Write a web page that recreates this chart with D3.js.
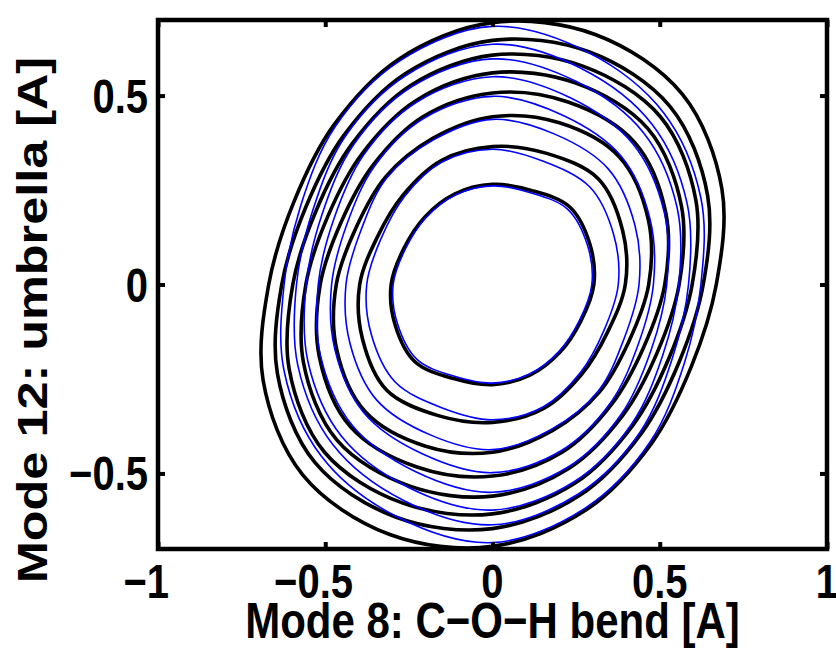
<!DOCTYPE html>
<html><head><meta charset="utf-8">
<script src="https://cdn.jsdelivr.net/npm/d3@7"></script>
<style>body{margin:0;background:#fff}svg{display:block}</style>
</head><body>
<script>
// ---- data (Mode 8 x, Mode 12 y, in Angstrom) ----
const xTicks = [-1, -0.5, 0, 0.5, 1];
const yTicks = [-0.5, 0, 0.5];
const xLabel = "Mode 8: C\u2212O\u2212H bend [A]";
const yLabel = "Mode 12: umbrella [A]";

// black (thick) contour levels, innermost first
const black1 = [[0.303,0],[0.291,0.107],[0.231,0.205],[0.116,0.249],[0,0.265],[-0.112,0.240],[-0.202,0.179],[-0.264,0.097],
                [-0.303,0],[-0.291,-0.107],[-0.231,-0.205],[-0.116,-0.249],[0,-0.265],[0.112,-0.240],[0.202,-0.179],[0.264,-0.097]];
const black2 = [[0.397,0],[0.389,0.143],[0.316,0.280],[0.162,0.347],[0,0.365],[-0.153,0.328],[-0.267,0.237],[-0.344,0.126],
                [-0.397,0],[-0.389,-0.143],[-0.316,-0.280],[-0.162,-0.347],[0,-0.365],[0.153,-0.328],[0.267,-0.237],[0.344,-0.126]];
const black3 = [[0.467,0],[0.466,0.171],[0.380,0.337],[0.200,0.428],[0,0.444],[-0.180,0.386],[-0.320,0.284],[-0.408,0.150],
                [-0.467,0],[-0.466,-0.171],[-0.380,-0.337],[-0.200,-0.428],[0,-0.444],[0.180,-0.386],[0.320,-0.284],[0.408,-0.150]];
const black4 = [[0.515,0],[0.518,0.190],[0.425,0.376],[0.226,0.483],[0,0.507],[-0.208,0.444],[-0.357,0.316],[-0.452,0.166],
                [-0.515,0],[-0.518,-0.190],[-0.425,-0.376],[-0.226,-0.483],[0,-0.507],[0.208,-0.444],[0.357,-0.316],[0.452,-0.166]];
const black5 = [[0.558,0],[0.565,0.207],[0.465,0.412],[0.249,0.533],[0,0.560],[-0.228,0.487],[-0.390,0.346],[-0.492,0.181],
                [-0.558,0],[-0.565,-0.207],[-0.465,-0.412],[-0.249,-0.533],[0,-0.560],[0.228,-0.487],[0.390,-0.346],[0.492,-0.181]];
const black6 = [[0.597,0],[0.608,0.223],[0.502,0.444],[0.270,0.578],[0,0.607],[-0.246,0.526],[-0.420,0.372],[-0.528,0.194],
                [-0.597,0],[-0.608,-0.223],[-0.502,-0.444],[-0.270,-0.578],[0,-0.607],[0.246,-0.526],[0.420,-0.372],[0.528,-0.194]];
const black7 = [[0.630,0],[0.643,0.236],[0.531,0.471],[0.288,0.616],[0,0.646],[-0.261,0.558],[-0.445,0.394],[-0.558,0.205],
                [-0.630,0],[-0.643,-0.236],[-0.531,-0.471],[-0.288,-0.616],[0,-0.646],[0.261,-0.558],[0.445,-0.394],[0.558,-0.205]];
const black8 = [[0.669,0],[0.686,0.252],[0.568,0.503],[0.309,0.661],[0,0.693],[-0.279,0.597],[-0.475,0.421],[-0.594,0.218],
                [-0.669,0],[-0.686,-0.252],[-0.568,-0.503],[-0.309,-0.661],[0,-0.693],[0.279,-0.597],[0.475,-0.421],[0.594,-0.218]];

// blue (thin) contour levels, innermost first
const blue1 = [[0.297,0],[0.284,0.104],[0.225,0.199],[0.114,0.243],[0,0.261],[-0.111,0.237],[-0.199,0.177],[-0.260,0.095],
               [-0.297,0],[-0.284,-0.104],[-0.225,-0.199],[-0.114,-0.243],[0,-0.261],[0.111,-0.237],[0.199,-0.177],[0.260,-0.095]];
const blue2 = [[0.376,0],[0.362,0.133],[0.291,0.258],[0.152,0.326],[0,0.358],[-0.151,0.324],[-0.263,0.233],[-0.333,0.122],
               [-0.376,0],[-0.362,-0.133],[-0.291,-0.258],[-0.152,-0.326],[0,-0.358],[0.151,-0.324],[0.263,-0.233],[0.333,-0.122]];
const blue3 = [[0.438,0],[0.426,0.156],[0.346,0.306],[0.186,0.398],[0,0.437],[-0.178,0.382],[-0.317,0.281],[-0.393,0.144],
               [-0.438,0],[-0.426,-0.156],[-0.346,-0.306],[-0.186,-0.398],[0,-0.437],[0.178,-0.382],[0.317,-0.281],[0.393,-0.144]];
const blue4 = [[0.481,0],[0.471,0.173],[0.384,0.340],[0.210,0.448],[0,0.498],[-0.205,0.440],[-0.353,0.313],[-0.435,0.160],
               [-0.481,0],[-0.471,-0.173],[-0.384,-0.340],[-0.210,-0.448],[0,-0.498],[0.205,-0.440],[0.353,-0.313],[0.435,-0.160]];
const blue5 = [[0.521,0],[0.514,0.189],[0.420,0.372],[0.231,0.495],[0,0.550],[-0.226,0.483],[-0.386,0.342],[-0.474,0.174],
               [-0.521,0],[-0.514,-0.189],[-0.420,-0.372],[-0.231,-0.495],[0,-0.550],[0.226,-0.483],[0.386,-0.342],[0.474,-0.174]];
const blue6 = [[0.557,0],[0.552,0.203],[0.452,0.401],[0.251,0.537],[0,0.597],[-0.244,0.522],[-0.416,0.369],[-0.509,0.187],
               [-0.557,0],[-0.552,-0.203],[-0.452,-0.401],[-0.251,-0.537],[0,-0.597],[0.244,-0.522],[0.416,-0.369],[0.509,-0.187]];
const blue7 = [[0.586,0],[0.582,0.214],[0.478,0.423],[0.267,0.571],[0,0.636],[-0.259,0.553],[-0.441,0.391],[-0.537,0.197],
               [-0.586,0],[-0.582,-0.214],[-0.478,-0.423],[-0.267,-0.571],[0,-0.636],[0.259,-0.553],[0.441,-0.391],[0.537,-0.197]];
const blue8 = [[0.623,0],[0.623,0.229],[0.512,0.454],[0.287,0.614],[0,0.683],[-0.277,0.592],[-0.471,0.417],[-0.573,0.210],
               [-0.623,0],[-0.623,-0.229],[-0.512,-0.454],[-0.287,-0.614],[0,-0.683],[0.277,-0.592],[0.471,-0.417],[0.573,-0.210]];

const blackContours = [black1, black2, black3, black4, black5, black6, black7, black8];
const blueContours  = [blue1, blue2, blue3, blue4, blue5, blue6, blue7, blue8];

// ---- drawing ----
const W = 836, H = 650;
const m = {left: 158, right: 827, top: 20, bottom: 549};
const FONT = "'Liberation Sans', Arial, Helvetica, sans-serif";
const STRETCH = 1.2;   // glyphs in the original are taller than wide

const svg = d3.select("body").append("svg").attr("width", W).attr("height", H);
const x = d3.scaleLinear().domain([-1, 1]).range([m.left, m.right]);
const y = d3.scaleLinear().domain([-0.7, 0.7]).range([m.bottom, m.top]);

svg.append("defs").append("clipPath").attr("id", "clip")
  .append("rect").attr("x", m.left).attr("y", m.top)
  .attr("width", m.right - m.left).attr("height", m.bottom - m.top);

const line = d3.line().x(d => x(d[0])).y(d => y(d[1])).curve(d3.curveCatmullRomClosed.alpha(0.5));

const plot = svg.append("g").attr("clip-path", "url(#clip)");
plot.selectAll("path.black").data(blackContours).join("path")
  .attr("class", "black").attr("d", line)
  .attr("fill", "none").attr("stroke", "#000").attr("stroke-width", 3.6)
  .attr("stroke-linejoin", "round");
plot.selectAll("path.blue").data(blueContours).join("path")
  .attr("class", "blue").attr("d", line)
  .attr("fill", "none").attr("stroke", "#0000ff").attr("stroke-width", 1.6)
  .attr("stroke-linejoin", "round");

// tick marks on all four sides, pointing inward
const TL = 7;
function styleTicks(g) {
  g.select(".domain").remove();
  g.selectAll(".tick text").remove();
  g.selectAll(".tick line").attr("stroke", "#000").attr("stroke-width", 4);
}
svg.append("g").attr("transform", `translate(0,${m.bottom})`)
  .call(d3.axisBottom(x).tickValues(xTicks).tickSize(-TL)).call(styleTicks);
svg.append("g").attr("transform", `translate(0,${m.top})`)
  .call(d3.axisTop(x).tickValues(xTicks).tickSize(-TL)).call(styleTicks);
svg.append("g").attr("transform", `translate(${m.left},0)`)
  .call(d3.axisLeft(y).tickValues(yTicks).tickSize(-TL)).call(styleTicks);
svg.append("g").attr("transform", `translate(${m.right},0)`)
  .call(d3.axisRight(y).tickValues(yTicks).tickSize(-TL)).call(styleTicks);

// frame
svg.append("rect").attr("x", m.left).attr("y", m.top)
  .attr("width", m.right - m.left).attr("height", m.bottom - m.top)
  .attr("fill", "none").attr("stroke", "#000").attr("stroke-width", 4.5);

// tick labels (number centred on the tick, minus sign hanging to the left)
const TFS = 40;
const absFmt = d => String(Math.abs(d));
const sign = d => (d < 0 ? "\u2212" : "");
const meas = svg.append("text").attr("font-family", FONT).attr("font-weight", "bold")
  .attr("font-size", TFS).attr("visibility", "hidden");
const absWidth = d => { meas.text(absFmt(d)); return meas.node().getComputedTextLength(); };

svg.append("g").selectAll("text").data(xTicks).join("text")
  .attr("transform", d => `translate(${x(d) + absWidth(d) / 2},598) scale(1,${STRETCH})`)
  .attr("text-anchor", "end").attr("font-family", FONT).attr("font-weight", "bold")
  .attr("font-size", TFS).attr("fill", "#000")
  .text(d => sign(d) + absFmt(d));

svg.append("g").selectAll("text").data(yTicks).join("text")
  .attr("transform", d => `translate(148,${y(d) + 17}) scale(1,${STRETCH})`)
  .attr("text-anchor", "end").attr("font-family", FONT).attr("font-weight", "bold")
  .attr("font-size", TFS).attr("fill", "#000")
  .text(d => sign(d) + absFmt(d));
meas.remove();

// axis labels
svg.append("text").attr("transform", `translate(${(m.left + m.right) / 2},638) scale(1,${STRETCH})`)
  .attr("text-anchor", "middle").attr("font-family", FONT).attr("font-weight", "bold")
  .attr("font-size", 42).text(xLabel);
svg.append("text").attr("transform", `translate(47,320) rotate(-90) scale(${STRETCH},1)`)
  .attr("text-anchor", "middle").attr("font-family", FONT).attr("font-weight", "bold")
  .attr("font-size", 42).text(yLabel);
</script>
</body></html>
